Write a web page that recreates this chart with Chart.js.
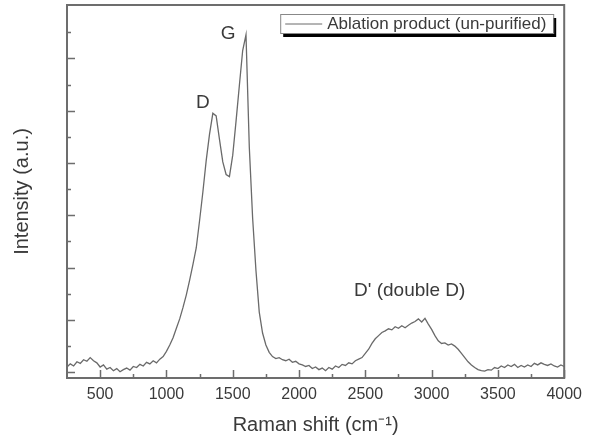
<!DOCTYPE html>
<html>
<head>
<meta charset="utf-8">
<script src="https://cdn.jsdelivr.net/npm/chart.js@4"></script>
<style>
  html, body { margin: 0; padding: 0; background: #fff; }
  #wrap { width: 589px; height: 440px; }
</style>
</head>
<body>
<div id="wrap"><canvas id="ramanChart" width="589" height="440"></canvas></div>
<script>
// Raman spectrum, sampled every 25 cm-1 from 250 to 4000
const shiftStart = 250;
const shiftStep = 25;
const intensity = [
  0.10, 0.16, 0.12, 0.20, 0.17, 0.24, 0.21, 0.28, 0.22, 0.18, // 250-475
  0.10, 0.14, 0.06, 0.09, 0.03, 0.07, 0.01, 0.05, 0.08, 0.04, // 500-725
  0.11, 0.09, 0.15, 0.12, 0.19, 0.16, 0.22, 0.18, 0.25, 0.30, // 750-975
  0.40, 0.52, 0.66, 0.84, 1.02, 1.24, 1.48, 1.76, 2.06, 2.38, // 1000-1225
  2.90, 3.45, 4.05, 4.55, 4.95, 4.90, 4.45, 4.02, 3.78, 3.74, // 1250-1475
  4.15, 4.80, 5.48, 6.15, 6.45, 4.30, 2.95, 1.95, 1.15, 0.75, // 1500-1725
  0.52, 0.38, 0.30, 0.26, 0.28, 0.24, 0.22, 0.25, 0.19, 0.21, // 1750-1975
  0.16, 0.14, 0.11, 0.13, 0.07, 0.10, 0.05, 0.08, 0.03, 0.09, // 2000-2225
  0.06, 0.12, 0.09, 0.15, 0.13, 0.18, 0.16, 0.22, 0.25, 0.28, // 2250-2475
  0.36, 0.44, 0.55, 0.64, 0.70, 0.76, 0.79, 0.83, 0.81, 0.87, // 2500-2725
  0.84, 0.89, 0.85, 0.90, 0.94, 0.97, 1.02, 0.96, 1.03, 0.92, // 2750-2975
  0.82, 0.70, 0.60, 0.55, 0.56, 0.52, 0.54, 0.50, 0.44, 0.36, // 3000-3225
  0.28, 0.20, 0.14, 0.09, 0.05, 0.03, 0.02, 0.05, 0.04, 0.09, // 3250-3475
  0.07, 0.12, 0.09, 0.14, 0.11, 0.15, 0.09, 0.13, 0.10, 0.14, // 3500-3725
  0.11, 0.17, 0.14, 0.18, 0.15, 0.13, 0.16, 0.12, 0.10, 0.14, // 3750-3975
  0.11                                                        // 4000
];
const shifts = intensity.map((_, i) => shiftStart + shiftStep * i);

const xTickLabels = [500, 1000, 1500, 2000, 2500, 3000, 3500, 4000];
const xMinorTicks = [750, 1250, 1750, 2250, 2750, 3250, 3750];
const yMajorTicks = [0, 1, 2, 3, 4, 5, 6];
const yMinorTicks = [0.5, 1.5, 2.5, 3.5, 4.5, 5.5, 6.5];

const peakLabels = ["G", "D", "D' (double D)"];
const peakLabelX = [1465, 1275, 2835];
const peakLabelY = [6.47, 5.15, 1.56];

const seriesName = "Ablation product (un-purified)";

const fontFamily = "'Liberation Sans', Arial, sans-serif";
const frameColor = "#6d6d6d";
const textColor = "#3a3a3a";
const lineColor = "#6a6a6a";

// frame, inward ticks, peak labels and the shadowed legend box
const decorPlugin = {
  id: "decor",
  afterDraw(chart) {
    const ctx = chart.ctx;
    const area = chart.chartArea;
    const xs = chart.scales.x;
    const ys = chart.scales.y;
    ctx.save();

    ctx.strokeStyle = frameColor;
    ctx.lineWidth = 2;
    ctx.strokeRect(area.left, area.top, area.right - area.left, area.bottom - area.top);

    ctx.lineWidth = 1.5;
    ctx.beginPath();
    xTickLabels.forEach(v => {
      const px = Math.round(xs.getPixelForValue(v)) + 0.5;
      ctx.moveTo(px, area.bottom);
      ctx.lineTo(px, area.bottom - 8);
    });
    xMinorTicks.forEach(v => {
      const px = Math.round(xs.getPixelForValue(v)) + 0.5;
      ctx.moveTo(px, area.bottom);
      ctx.lineTo(px, area.bottom - 4);
    });
    yMajorTicks.forEach(v => {
      const py = Math.round(ys.getPixelForValue(v)) + 0.5;
      ctx.moveTo(area.left, py);
      ctx.lineTo(area.left + 8, py);
    });
    yMinorTicks.forEach(v => {
      const py = Math.round(ys.getPixelForValue(v)) + 0.5;
      ctx.moveTo(area.left, py);
      ctx.lineTo(area.left + 4, py);
    });
    ctx.stroke();

    ctx.fillStyle = textColor;
    ctx.font = "19px " + fontFamily;
    ctx.textAlign = "center";
    ctx.textBaseline = "middle";
    peakLabels.forEach((t, i) => {
      ctx.fillText(t, xs.getPixelForValue(peakLabelX[i]), ys.getPixelForValue(peakLabelY[i]));
    });

    // legend
    const boxRight = area.right - 11;
    const boxLeft = boxRight - 273;
    const boxTop = area.top + 9;
    const boxH = 19;
    ctx.fillStyle = "#000";
    ctx.fillRect(boxLeft + 3, boxTop + 4, boxRight - boxLeft, boxH);
    ctx.fillStyle = "#fff";
    ctx.fillRect(boxLeft, boxTop, boxRight - boxLeft, boxH);
    ctx.strokeStyle = "#888";
    ctx.lineWidth = 1;
    ctx.strokeRect(boxLeft + 0.5, boxTop + 0.5, boxRight - boxLeft, boxH);
    ctx.strokeStyle = lineColor;
    ctx.beginPath();
    ctx.moveTo(boxLeft + 5, boxTop + boxH / 2 + 0.5);
    ctx.lineTo(boxLeft + 42, boxTop + boxH / 2 + 0.5);
    ctx.stroke();
    ctx.fillStyle = textColor;
    ctx.font = "17px " + fontFamily;
    ctx.textAlign = "left";
    ctx.fillText(seriesName, boxLeft + 47, boxTop + boxH / 2 + 1);

    ctx.restore();
  }
};

const ramanData = {
  datasets: [
    {
      label: seriesName,
      data: shifts.map((s, i) => ({ x: s, y: intensity[i] })),
      borderColor: lineColor,
      borderWidth: 1.3,
      pointRadius: 0,
      tension: 0,
      fill: false,
    },
  ],
};

const ramanConfig = {
  type: "line",
  data: ramanData,
  options: {
    responsive: false,
    animation: false,
    events: [],
    layout: {
      padding: { top: 5, right: 21, bottom: 0, left: 0 },
    },
    scales: {
      x: {
        type: "linear",
        min: 250,
        max: 4000,
        afterBuildTicks: scale => {
          scale.ticks = xTickLabels.map(v => ({ value: v }));
        },
        afterFit: scale => {
          scale.height = 62;
        },
        grid: { display: false, drawTicks: false },
        border: { display: false },
        ticks: {
          color: textColor,
          padding: 7,
          maxRotation: 0,
          autoSkip: false,
          callback: v => String(v),
          font: { family: fontFamily, size: 16 },
        },
        title: {
          display: true,
          text: "Raman shift (cm\u207B\u00B9)",
          color: textColor,
          padding: { top: 0, bottom: 3 },
          font: { family: fontFamily, size: 20 },
        },
      },
      y: {
        min: -0.11,
        max: 7.02,
        afterFit: scale => {
          scale.width = 67;
        },
        grid: { display: false, drawTicks: false },
        border: { display: false },
        ticks: { display: false },
        title: {
          display: true,
          text: "Intensity (a.u.)",
          color: textColor,
          padding: { top: 10, bottom: 0 },
          font: { family: fontFamily, size: 20 },
        },
      },
    },
    plugins: {
      legend: { display: false },
      tooltip: { enabled: false },
    },
  },
  plugins: [decorPlugin],
};

const ramanCtx = document.getElementById("ramanChart").getContext("2d");
new Chart(ramanCtx, ramanConfig);
</script>
</body>
</html>
